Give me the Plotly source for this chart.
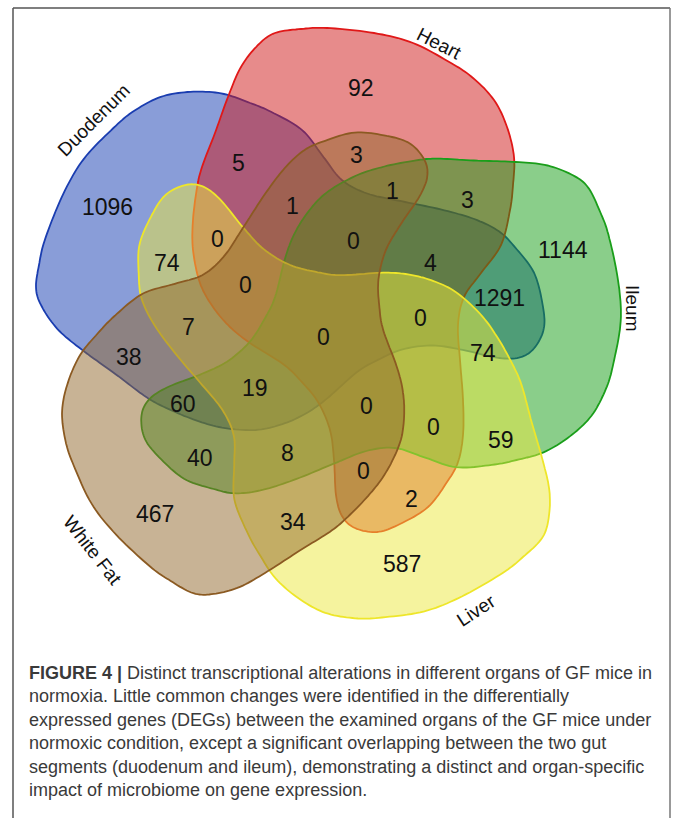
import numpy as np
import plotly.graph_objects as go

# ---------------- data ----------------
set_names = ["Duodenum", "Heart", "Ileum", "Liver", "White Fat"]
region_counts = [1096, 92, 1144, 587, 467,
                 5, 3, 1, 3, 1, 0, 74, 0, 4, 1291,
                 0, 7, 0, 0, 74, 38, 19, 60, 0, 0,
                 59, 40, 8, 0, 2, 34]

caption_bold = "FIGURE 4 |"
caption_lines = [
    " Distinct transcriptional alterations in different organs of GF mice in",
    "normoxia. Little common changes were identified in the differentially",
    "expressed genes (DEGs) between the examined organs of the GF mice under",
    "normoxic condition, except a significant overlapping between the two gut",
    "segments (duodenum and ileum), demonstrating a distinct and organ-specific",
    "impact of microbiome on gene expression.",
]

# ---------------- layout / geometry ----------------
W, H = 673, 818
CX, CY = 327, 327          # rotation centre of the 5-fold diagram
# outline of one set (Heart), in page pixels; others are rotations of it
base_outline = [
    (197, 188), (202, 167), (215, 133), (228, 97), (241, 67), (258, 45), (275, 33),
    (301, 29), (327, 28), (374, 33), (413, 43), (451, 63), (473, 78), (494, 100),
    (507, 127), (514, 157), (513, 185), (510, 210), (501, 245), (481, 273), (464, 297),
    (458, 325), (460, 360), (463, 400), (463, 435), (458, 462), (447, 482), (428, 507),
    (400, 524), (377, 532), (355, 528), (342, 516), (336, 495), (334, 460), (330, 430),
    (318, 402), (300, 380), (283, 364), (250, 343), (230, 327), (213, 307), (200, 283),
    (193, 250), (193, 220),
]
set_rotation = [-74, 0, 72, 144, 216]
set_offset = [(6, -7), (0, 0), (-3, 0), (0, 4), (0, 0)]
# small per-set adjustment: (extra rotation deg, scale, pivot)
set_tweak = [(0, 1, (0, 0)), (0, 1, (0, 0)), (0, 1, (0, 0)), (0, 1, (0, 0)),
             (1.2, 0.98, (180, 470))]
set_fill = ["rgba(20,60,178,0.5)", "rgba(208,24,24,0.5)", "rgba(22,158,22,0.5)",
            "rgba(236,232,62,0.5)", "rgba(146,104,44,0.5)"]
set_line = ["#1a3db0", "#e01818", "#1a9e1a", "#eee62a", "#8b5a22"]

label_x = [93, 439, 633, 476, 93]
label_y = [120, 43, 308, 610, 550]
label_angle = [-45, 27, 90, -33, 52]

count_x = [107, 361, 563, 402, 155,
           238, 356, 392, 467, 292, 217, 167, 353, 430, 499,
           245, 188, 323, 420, 483, 129, 255, 183, 366, 433,
           501, 200, 287, 363, 411, 293]
count_y = [207, 88, 250, 564, 514,
           163, 155, 191, 200, 206, 239, 263, 241, 263, 298,
           285, 327, 337, 318, 353, 357, 388, 404, 406, 427,
           440, 458, 453, 471, 499, 522]


def smooth_closed(pts, n=10):
    P = np.asarray(pts, float)
    N = len(P)
    t = np.linspace(0, 1, n, endpoint=False)[:, None]
    segs = []
    for i in range(N):
        p0, p1, p2, p3 = P[i - 1], P[i], P[(i + 1) % N], P[(i + 2) % N]
        segs.append(0.5 * (2 * p1 + (-p0 + p2) * t
                           + (2 * p0 - 5 * p1 + 4 * p2 - p3) * t ** 2
                           + (-p0 + 3 * p1 - 3 * p2 + p3) * t ** 3))
    return np.vstack(segs)


def rot(P, deg, centre):
    a = np.deg2rad(deg)
    R = np.array([[np.cos(a), -np.sin(a)], [np.sin(a), np.cos(a)]])
    return (np.asarray(P, float) - centre) @ R.T + centre


def placed(pts, deg, off, tweak):
    Q = rot(pts, deg, np.array([CX, CY], float)) + np.asarray(off, float)
    tdeg, sc, piv = tweak
    piv = np.asarray(piv, float)
    Q = piv + sc * (rot(Q, tdeg, piv) - piv)
    return Q


fig = go.Figure()
# invisible trace to establish the axes
fig.add_trace(go.Scatter(x=[0, W], y=[0, H], mode="markers",
                         marker=dict(opacity=0), hoverinfo="skip", showlegend=False))

shapes = []
for i, name in enumerate(set_names):
    pts = smooth_closed(placed(base_outline, set_rotation[i], set_offset[i], set_tweak[i]))
    path = "M " + " L ".join(f"{x:.1f},{y:.1f}" for x, y in pts) + " Z"
    shapes.append(dict(type="path", path=path, xref="x", yref="y",
                       fillcolor=set_fill[i], line=dict(color=set_line[i], width=1.8),
                       layer="above"))

# frame of the figure panel
shapes.append(dict(type="line", xref="x", yref="y", x0=13, y0=8, x1=670, y1=8,
                   line=dict(color="#555555", width=1.5)))
shapes.append(dict(type="line", xref="x", yref="y", x0=13, y0=8, x1=13, y1=H + 5,
                   line=dict(color="#555555", width=1.5)))
shapes.append(dict(type="line", xref="x", yref="y", x0=670, y0=8, x1=670, y1=H + 5,
                   line=dict(color="#777777", width=1.5)))

annotations = []
for i, c in enumerate(region_counts):
    annotations.append(dict(x=count_x[i], y=count_y[i], xref="x", yref="y",
                            text=str(c), showarrow=False,
                            font=dict(family="Liberation Sans, Arial", size=23, color="#111111")))
for i, name in enumerate(set_names):
    annotations.append(dict(x=label_x[i], y=label_y[i], xref="x", yref="y",
                            text=name, showarrow=False, textangle=label_angle[i],
                            font=dict(family="Liberation Sans, Arial", size=19, color="#111111")))

cap_text = ("<b>" + caption_bold + "</b>" + "<br>".join(caption_lines))
annotations.append(dict(x=27, y=661, xref="x", yref="y", xanchor="left", yanchor="top",
                        text=cap_text, showarrow=False, align="left",
                        font=dict(family="Liberation Sans, Arial", size=18, color="#3a3a3a")))

fig.update_layout(
    width=W, height=H, autosize=False,
    margin=dict(l=0, r=0, t=0, b=0),
    paper_bgcolor="white", plot_bgcolor="white",
    xaxis=dict(range=[0, W], visible=False, fixedrange=True),
    yaxis=dict(range=[H, 0], visible=False, fixedrange=True),
    shapes=shapes, annotations=annotations, showlegend=False,
)

fig.write_html("out.html", config={"displayModeBar": False, "staticPlot": True},
               post_script="document.body.style.margin='0';document.body.style.overflow='hidden';")
